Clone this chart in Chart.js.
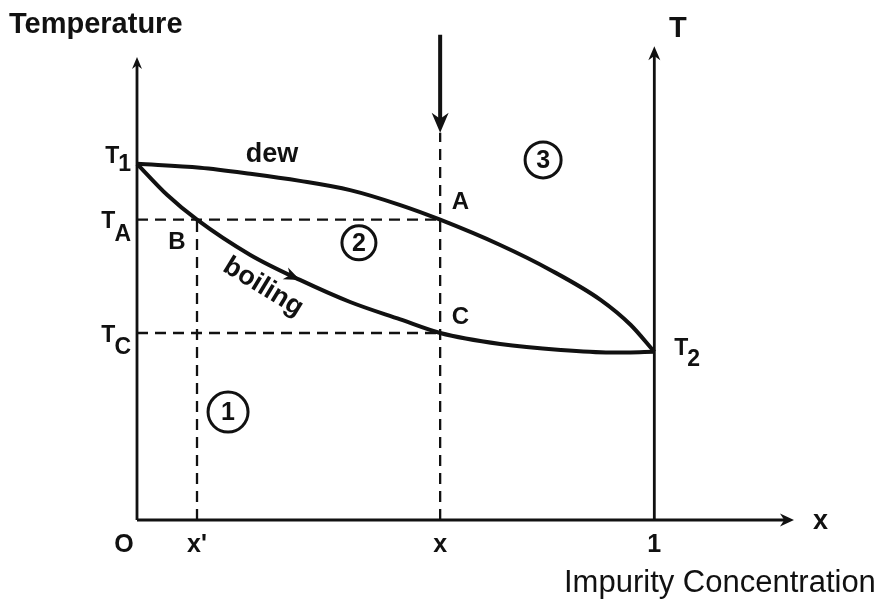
<!DOCTYPE html>
<html>
<head>
<meta charset="utf-8">
<script src="https://cdn.jsdelivr.net/npm/chart.js@4.4.0/dist/chart.umd.min.js"></script>
<style>
  body { margin: 0; background: #fff; }
  #wrap { width: 882px; height: 604px; position: relative; }
</style>
</head>
<body>
<div id="wrap"><canvas id="grafico"></canvas></div>
<script>
// impurity concentration x (0..1), temperature scaled so that T1 = 1
const dewX = [0, 0.122, 0.219, 0.315, 0.412, 0.509, 0.586, 0.702, 0.799, 0.896, 0.954, 1.0];
const dewT = [1.0, 0.989, 0.972, 0.952, 0.926, 0.884, 0.843, 0.772, 0.702, 0.618, 0.548, 0.472];
const boilX = [0, 0.058, 0.116, 0.219, 0.315, 0.412, 0.509, 0.586, 0.702, 0.819, 0.915, 1.0];
const boilT = [1.0, 0.913, 0.843, 0.744, 0.674, 0.612, 0.563, 0.525, 0.494, 0.477, 0.470, 0.472];

const T1 = 1.0, TA = 0.843, TC = 0.525, T2 = 0.472;
const xPrime = 0.116, xA = 0.586;

const tickNames = ['O', "x'", 'x', '1'];
const tickX = [-0.025, 0.116, 0.586, 1.0];
const regionNames = ['1', '2', '3'];
const regionX = [0.176, 0.429, 0.785];
const regionT = [0.303, 0.778, 1.011];
const pointNames = ['A', 'B', 'C'];
const pointX = [0.625, 0.077, 0.625];
const pointT = [0.893, 0.778, 0.570];

const BLACK = '#111';
const FONT = '"Liberation Sans", Arial, sans-serif';

function pts(xs, ys) { return xs.map((x, i) => ({ x: x, y: ys[i] })); }
function seg(x1, y1, x2, y2) { return [{ x: x1, y: y1 }, { x: x2, y: y2 }]; }

function curve(data) {
  return { data: data, showLine: true, borderColor: BLACK, borderWidth: 4, pointRadius: 0, cubicInterpolationMode: 'monotone', clip: false, fill: false };
}
function solid(data, w) {
  return { data: data, showLine: true, borderColor: BLACK, borderWidth: w, pointRadius: 0, clip: false, fill: false };
}
function dashed(data) {
  return { data: data, showLine: true, borderColor: BLACK, borderWidth: 2.3, borderDash: [11, 7], pointRadius: 0, clip: false, fill: false };
}

function head(ctx, x, y, ang, len, wid) {
  ctx.save();
  ctx.translate(x, y);
  ctx.rotate(ang);
  ctx.beginPath();
  ctx.moveTo(0, 0);
  ctx.lineTo(-len, -wid / 2);
  ctx.lineTo(-len * 0.7, 0);
  ctx.lineTo(-len, wid / 2);
  ctx.closePath();
  ctx.fillStyle = BLACK;
  ctx.fill();
  ctx.restore();
}

function withSub(ctx, main, sub, x, yMain, ySub, alignRight) {
  ctx.textAlign = 'left';
  ctx.textBaseline = 'alphabetic';
  const wm = ctx.measureText(main).width;
  const ws = ctx.measureText(sub).width;
  const x0 = alignRight ? x - wm - ws : x;
  ctx.fillText(main, x0, yMain);
  ctx.fillText(sub, x0 + wm - 1, ySub);
}

const labels = {
  id: 'labels',
  afterDatasetsDraw(chart) {
    const ctx = chart.ctx;
    const xs = chart.scales.x, ys = chart.scales.y;
    const px = v => xs.getPixelForValue(v);
    const py = v => ys.getPixelForValue(v);
    ctx.save();
    ctx.fillStyle = BLACK;
    ctx.strokeStyle = BLACK;

    // arrowheads of the axes
    head(ctx, px(0), py(1.30), -Math.PI / 2, 12, 10);
    head(ctx, px(1), py(1.33), -Math.PI / 2, 14, 12);
    head(ctx, px(1.27), py(0), 0, 14, 13);
    // arrow coming down on x
    head(ctx, px(xA), py(1.087), Math.PI / 2, 20, 17);

    // arrow on the boiling curve
    const a = { x: px(0.28), y: py(0.697) }, b = { x: px(0.33), y: py(0.664) };
    head(ctx, px(0.315), py(0.674), Math.atan2(b.y - a.y, b.x - a.x), 16, 13);

    // titles
    ctx.font = 'bold 29px ' + FONT;
    ctx.textBaseline = 'alphabetic';
    ctx.textAlign = 'left';
    ctx.fillText('Temperature', 9, 33);
    ctx.fillText('T', 669, 37);
    ctx.font = '31px ' + FONT;
    ctx.fillText('Impurity Concentration', 564, 592);
    ctx.font = 'bold 27px ' + FONT;
    ctx.fillText('x', px(1.27) + 19, py(0) + 9);

    // temperature level names
    ctx.font = 'bold 23px ' + FONT;
    const ax = px(0) - 5;
    withSub(ctx, 'T', '1', ax, py(T1) - 1, py(T1) + 7, true);
    withSub(ctx, 'T', 'A', ax, py(TA) + 8, py(TA) + 21, true);
    withSub(ctx, 'T', 'C', ax, py(TC) + 9, py(TC) + 21, true);
    withSub(ctx, 'T', '2', px(1) + 20, py(T2) + 3, py(T2) + 14, false);

    // ticks on the x axis
    ctx.font = 'bold 25px ' + FONT;
    ctx.textAlign = 'center';
    ctx.textBaseline = 'middle';
    tickNames.forEach((t, i) => ctx.fillText(t, px(tickX[i]), py(0) + 25));

    // point names
    ctx.font = 'bold 24px ' + FONT;
    pointNames.forEach((t, i) => ctx.fillText(t, px(pointX[i]), py(pointT[i])));

    // curve names
    ctx.font = 'bold 27px ' + FONT;
    ctx.fillText('dew', px(0.261), py(1.025));
    ctx.save();
    ctx.translate(px(0.244), py(0.654));
    ctx.rotate(0.55);
    ctx.fillText('boiling', 0, 0);
    ctx.restore();

    // circled region numbers
    const radii = [20, 17, 18];
    regionNames.forEach((t, i) => {
      const cx = px(regionX[i]), cy = py(regionT[i]);
      ctx.beginPath();
      ctx.lineWidth = 3;
      ctx.arc(cx, cy, radii[i], 0, Math.PI * 2);
      ctx.stroke();
      ctx.font = 'bold 25px ' + FONT;
      ctx.fillText(t, cx, cy + 1);
    });
    ctx.restore();
  }
};

new Chart(document.getElementById('grafico'), {
  type: 'scatter',
  data: {
    datasets: [
      curve(pts(dewX, dewT)),
      curve(pts(boilX, boilT)),
      solid(seg(0, 0, 0, 1.28), 2.8),
      solid(seg(0, 0, 1.255, 0), 2.8),
      solid(seg(1, 0, 1, 1.31), 2.8),
      solid(seg(xA, 1.362, xA, 1.12), 4),
      dashed(seg(0, TA, xA, TA)),
      dashed(seg(0, TC, xA, TC)),
      dashed(seg(xPrime, 0, xPrime, TA)),
      dashed(seg(xA, 0, xA, 1.087))
    ]
  },
  options: {
    responsive: true,
    maintainAspectRatio: false,
    animation: false,
    events: [],
    layout: { padding: { left: 137, right: 88, top: 32, bottom: 84 } },
    plugins: { legend: { display: false }, tooltip: { enabled: false } },
    scales: {
      x: { type: 'linear', min: 0, max: 1.27, display: false },
      y: { type: 'linear', min: 0, max: 1.37, display: false }
    }
  },
  plugins: [labels]
});
</script>
</body>
</html>
